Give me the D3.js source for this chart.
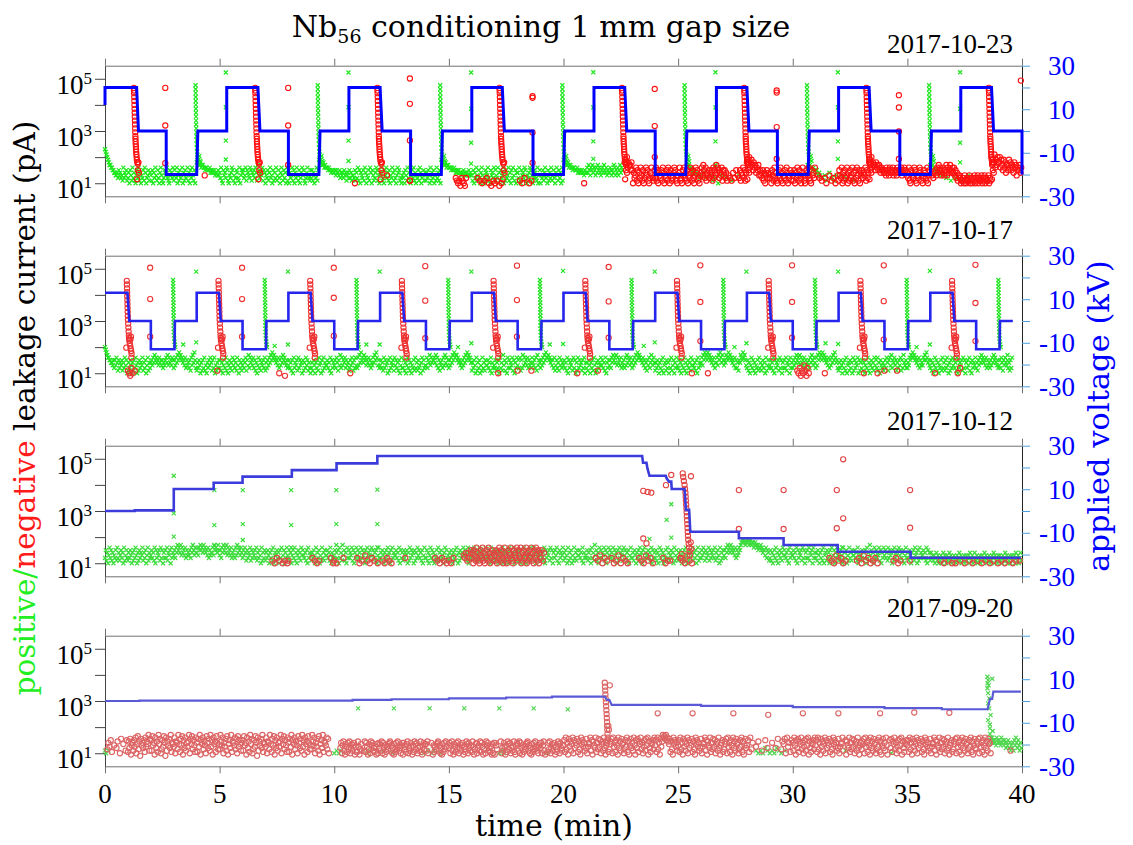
<!DOCTYPE html>
<html>
<head>
<meta charset="utf-8">
<script src="https://cdn.jsdelivr.net/npm/d3@7"></script>
<style>
  body { margin: 0; background: #fff; }
  .num { font-family: "Liberation Serif", serif; font-size: 27px; }
  .word { font-family: "DejaVu Serif", serif; }
</style>
</head>
<body>
<svg id="chart" width="1133" height="845"></svg>
<script>
// panels, top to bottom
var dates = ['2017-10-23', '2017-10-17', '2017-10-12', '2017-09-20'];
var xTicks = [0, 5, 10, 15, 20, 25, 30, 35, 40];
var yTicks = [10, 100, 1000, 10000, 100000];
var vTicks = [-30, -20, -10, 0, 10, 20, 30];

// applied voltage (min, kV)
var volt1 = [[0,12],[0,20],[1.38,20],[1.46,0],[2.67,0],[2.67,-20],[4.0,-20],[4.05,0],[5.31,0],[5.31,20],[6.67,20],[6.76,0],[8.0,0],[8.0,-20],[9.33,-20],[9.38,0],[10.64,0],[10.64,20],[12.0,20],[12.09,0],[13.33,0],[13.33,-20],[14.67,-20],[14.72,0],[16.0,0],[16.0,20],[17.33,20],[17.42,0],[18.67,0],[18.67,-20],[20.0,-20],[20.05,0],[21.33,0],[21.33,20],[22.67,20],[22.76,0],[24.0,0],[24.0,-20],[25.33,-20],[25.38,0],[26.67,0],[26.67,20],[28.0,20],[28.09,0],[29.33,0],[29.33,-20],[30.67,-20],[30.72,0],[32.0,0],[32.0,20],[33.33,20],[33.42,0],[34.67,0],[34.67,-20],[36.0,-20],[36.05,0],[37.33,0],[37.33,20],[38.67,20],[38.76,0],[40.0,0],[40.0,-20]];
var volt2 = [[0,13],[0.98,13],[1.06,0],[2,0],[2,-13],[3.03,-13],[3.05,0],[4,0],[4,13],[4.97,13],[5.05,0],[6,0],[6,-13],[7.02,-13],[7.04,0],[8,0],[8,13],[8.97,13],[9.05,0],[10,0],[10,-13],[11.02,-13],[11.04,0],[12,0],[12,13],[12.97,13],[13.05,0],[14,0],[14,-13],[15.02,-13],[15.04,0],[16,0],[16,13],[16.97,13],[17.05,0],[18,0],[18,-13],[19.02,-13],[19.04,0],[20,0],[20,13],[20.97,13],[21.05,0],[22,0],[22,-13],[23.02,-13],[23.04,0],[24,0],[24,13],[24.97,13],[25.05,0],[26,0],[26,-13],[27.02,-13],[27.04,0],[28,0],[28,13],[28.97,13],[29.05,0],[30,0],[30,-13],[31.02,-13],[31.04,0],[32,0],[32,13],[32.97,13],[33.05,0],[34,0],[34,-13],[35.02,-13],[35.04,0],[36,0],[36,13],[36.97,13],[37.05,0],[38,0],[38,-13],[39.02,-13],[39.04,0],[39.6,0]];
var volt3 = [[0,0],[1.3,0],[1.3,0.3],[3.0,0.3],[3.0,10.1],[4.74,10.1],[4.74,13],[6.0,13],[6.0,15.8],[8.15,15.8],[8.15,18.8],[10.1,18.8],[10.1,21.9],[11.88,21.9],[11.88,25.3],[23.43,25.3],[23.47,22.2],[23.62,22.2],[23.66,19.6],[23.75,16.2],[24.46,16.2],[24.5,15.0],[24.6,13.5],[24.7,13.5],[24.72,10.1],[25.28,10.1],[25.34,0.5],[25.48,0.5],[25.53,-9.5],[27.65,-9.5],[27.65,-12.5],[29.6,-12.5],[29.6,-15.6],[31.96,-15.6],[31.96,-18.7],[35.14,-18.7],[35.14,-21.5],[39.95,-21.5]];
var volt4 = [[0,0],[1.5,0],[1.5,0.2],[10.8,0.2],[10.8,0.5],[12.5,0.5],[12.5,0.8],[15,0.8],[15,1.2],[17.5,1.2],[17.5,1.6],[19.5,1.6],[19.5,2.0],[21.8,2.0],[21.9,0.5],[22.0,0.5],[22.1,-1.8],[26,-1.8],[26,-2.2],[30,-2.2],[30,-2.8],[34,-2.8],[34,-3.3],[36.5,-3.3],[36.5,-3.8],[38.5,-3.8],[38.6,1.0],[38.7,1.0],[38.75,4.3],[39.95,4.3]];

// noise floor, one string per minute, each char = log10(pA): 0.9 + step*base36 value, '.' = no sample
var p1Pos = ["edcba9887766554453645342735462","351642735214637251436275134625","426153742631574213654732164537","264371526347152634725163742615","9a9889788776776667565656455464",
  "537216453762143576241365327146","563472654376254637528463547265","143625734162537246315742635172","615347261537426135746213574326","3625143726a9a98897877767665665",
  "564655463545364524536352443625","372615436275143627516423576241","457231647352614375263147562314","351642735214637251436275134625","25364172536142735261a9a9889788",
  "777676676565665554564545546454","426153742631574213654732164537","264371526347152634725163742615","537216453762143576241365327146","143625734162537246315742635172",
  "a9a988978877677666756565655465","575864768576475867546758657465","576465874657468576............",".",".",
  "............8787676565.5.4..3.","4.5.3...4.2..3.1..4.","..3....2.....4......",".",".",
  ".............8787676","56454.3.4.2.5.3.2.4.","..4....3.....2......",".",".",
  ".","8787665545.4..3...2.","..3....2.....4......",".","."];
var p1Neg = [".",".",".",".",".......4............",
  ".",".",".",".",".",
  "..................1.",".","......4.............","......2.............",".",
  "......3212032103....",".....3.2.1.2.3.1.0.2","1.2.0.1.............","..2.1.3...1.2.......",".",
  "..................1.",".","....................9a8b798869","615347261537426135746213574326","372615436275143627516423576241",
  "457231647352614375263147562314","574863725463546273648576354726","46352.4.3.2.5.3.6.4.3625473625","9a8b79a86978576846453625146354","351642735214637251436275134625",
  "426153742631574213654732164537","...4.3..2...3.1...4..2.3..1..4","264371526347152634725163742615","46354726359a8b7988697868757665","564756475657465647566574657564",
  "537216453762143576241365327146","..4.3.564758674657465847568657","574635244312231421322413213241","32413224132413224132b8a9c7a8b9","9b7a86a795886a7968759784676857"];
var p2Pos = ["ba9877665546364752635462537461","253641526374152635472536147253","564758675647564635467584756476","364758697867564736453627485963","253641526372415364752637142536",
  "362514637251463527463527416352","463572648375647362514736254637","253647586978675647364758675463","463526173546273645162537462531","352641536274516273544635271635",
  "463752648374657364523647526374","374859675867465746354758697463","463527364516273546274635261473","362514736251436273526341572634","473658475667584736254637485746",
  "364758697886756453647586978675","253641725361427352644635271534","362536173528462517363547261537","463726384756473645375463728465","364758697786756463724635274635",
  "463527163546273615273645263715","352641536274152635474635271536","463758675847564735463748576475","364758697876657463526473586475","253641536271452635163724615374",
  "362514637251463527464352617354","574869786978675647355748697586","465876978675647363526587697864","362514736251436273524635172463","463527163546273615363725461735",
  "364758675847564736454637586475","374869786978675647364758697563","253641536271452635172635471625","362514637251463527463725164352","463752674836574625364726385463",
  "354768797867564736454768697564","362514736251436273526374152637","463527163546273615364725163547","352647586756473645364758675463","463752647546352637............"];
var p2Neg = [".","21031.2.............",".",".","..................2.",
  ".",".","............1....0..",".",".",
  "..............1.....",".",".",".",".",
  ".",".","...1................","2...........2.......",".",
  "............1.......","..........2.........",".",".",".",
  "............1.......","......1.............",".",".",".",
  "....21302142031.....","........1...........",".","..1...........1.....","2..........2........",
  ".","....1...............","....1.3.............",".","."];
var p3Pos = ["362514736251436273524635172463","253641526374152635472536147253","463527163546273615363725461735","463758675847564736454637586475","574768675867564736455748676586",
  "463758675847564735463748576475","364752635472635463725364172536","253641536271452635163724615374","362514637251463527464352617354","253641725361427352644635271534",
  "362536173528462517363547261537","463527364516273546274635261473","352641536274516273544635271635","263546152736451625374635261473","362514736251436273526341572634",
  "253641536274152635474635271536","364752635472635463725364172536","253641536271452635172635471625","362514637251463527463725164352","463527163546273615364725163547",
  "253641725361427352644635271534","362536173528462517363547261537","463527364516273546274635261473","352641536274516273544635271635","362514736251436273524635172463",
  "253641526374152635472536147253","364752635472635463725364172536","463758675867564736457689a9a989","a9a89a899789878677867566473652","362514637251463527464352617354",
  "463527163546273615363725461735","352641536271452635163724615374","253641725361427352644635271534","362536173528462517363547261537","463527364516273546274635261473",
  "352641536274516273544635271635","253424135241324135243142352413","342314235241324134234153241352","241324134235241324132435142314","342314235241324134234153241352"];
var p3Neg = [".",".",".",".",".",
  ".",".","......2.1.3.2..1.2.1","2...................",".3.2.1.2.........3.1",
  "2.1.....3...........","3.1.2..4.2.1.3.2..1.","..2.1.3.2.1.........","..3.................","........3.2.1.3.2.1.",
  "2.1.3........4352536","351642735214637251436275134625","426153742631574213654732164537","264371526347152634725163742615","3625................",
  ".","........3.2.4.1.3.2.","..3.1.2.4.1.3.2.1...","......3.2.1.4.2.3.1.",".......3.1.2.2......",
  "..3.2.1.4.2.1.......",".",".",".",".",
  ".","............3.2.1.4.","2.3.1.2.........2.3.","1.4.2.3.1.2.3.1.....","........2.3.1.2.....",
  "..2.................",".........2..1...2..1","..1...2...1...2..1..",".2...1..2...1..2...1","..2..1...2..1..2..2."];
var p4Pos = ["21.2................",".",".",".",".",
  ".",".",".",".",".",
  "1.2.1.2.............",".........1.2........","...2.......1........","..................1.","..2..1.2.....1......",
  ".",".","....1.2.1...........",".","......1.............",
  ".",".",".",".",".",
  ".",".",".","........2.1.2.1.3.2.","1.2.1.3.2.1..2......",
  ".",".","......2.............",".","......1.............",
  ".",".",".","..................675765654765","654756465354635243526475364253"];
// finer steps (0.05 decade) for this one
var p4Neg = ["..5a7c3.8.6b.2d.9.4c","3b6d18a4c7e29f5b0d8a6c3e7b9g4d","c4f8a1e6b3g9d25c7fa0e4b8d6g3a9","7e2ba5g93d8f1c6e4a7bg2d9f5c83e","a3d7g1c9e5b82fa6d4g7c1e9b3fa58",
  "5gb8e2a7d4f19c6g3ba8e5d2f7c94a","c4f8a1e6b3g9d25c7fa0e4b8d6g3a9","7e2ba5g93d8f1c6e4a7bg2d9f5c83e","a3d7g1c9e5b82fa6d4g7c1e9b3fa58","5gb8e2a7d4f19c6g3ba8e5d2......",
  "........6a28b41973a5b26948a173","3b71594..4b3a71592b8a4637192a6","94b2a6183759ab4826193a5b74628a","1a8539b264a7183b95a2647b318a59","94b2...a.183759ab4826193a5b7..",
  "6a28b41973a5b26948a1735b92a648","3b7159a2684b3a71592b8a4637192a","1a85....b264a7183b95a2647b318a","94b2a6183759ab4826193a5b74628a","6a28b41..3a5b26948a1735b92a648",
  "8c3e5a1d7b49e2c6a8d3b51e9c7a46","d27a9e4c1b86e3a5d7c29b4e618ac3","5b9d2e7a3c81e6b4d9a25c7e3b18d6","a4e81c6d3b9e5a27c4d8e1b63a9c5e","8c3e5a1d7bgefdgceb9d3b51e9c7a4",
  "8c3e5a1d7b49e2c6a8d3b51e9c7a46","d27a9e4c1b86e3a5d7c29b4e618ac3","5b9d2e7a3c81e6b4d9a25c7e3b18d6","8c3e5a..7.b..4..c.6.","..a..6.d..5b9d2e7a3c",
  "a4e81c6d3b9e5a27c4d8e1b63a9c5e","8c3e5a1d7b49e2c6a8d3b51e9c7a46","d27a9e4..c1b86e3a5d7c29b4e618a","5b9d2e7a3c81e6b4d9a25c7e3b18d6","a4e81..c6d3b9e5a27c4d8e1b63a9c",
  "8c3e5a1d7b49e2c6a8d3b51e9c7a46","d27a9e4c1b86e3a5d7c29b4e618ac3","5b9d2e7a3c81e6b4d9a25c7e3b18d6","5b9d2e7a3c81e6b4d9a2..........","..........4........."];

// transients (offset min, log10 pA) and when they occur
var p1Decay = [[-0.12,4.65],[-0.115,4.55],[-0.11,4.45],[-0.105,4.3],[-0.1,4.15],[-0.095,4.0],[-0.09,3.85],[-0.085,3.7],[-0.08,3.55],[-0.075,3.4],[-0.07,3.25],[-0.065,3.1],[-0.06,2.95],[-0.055,2.8],[-0.05,2.7],[-0.045,2.6],[-0.04,2.5],[-0.03,2.4],[-0.025,2.3],[-0.02,2.2],[-0.01,2.1],[0,2.0],[0.01,1.9],[0.03,1.8],[0.05,1.75],[0.08,1.8],[0.06,1.5],[0.1,1.4],[0.02,1.15]];
var p1DecayAt = [1.38, 6.67, 12.0, 17.33, 22.67, 28.0, 33.33, 38.67];
var p1Rise = [[-0.05,4.75],[-0.048,4.6],[-0.046,4.45],[-0.044,4.3],[-0.042,4.15],[-0.04,4.0],[-0.037,3.85],[-0.034,3.7],[-0.031,3.55],[-0.028,3.4],[-0.025,3.25],[-0.02,3.1],[-0.015,2.95],[-0.01,2.8],[-0.005,2.65],[0,2.5],[0.01,2.35],[0.02,2.2],[0.03,2.1],[0.05,2.0],[0.08,1.9],[0.12,2.05],[0.15,1.85]];
var p1RiseAt = [4.0, 9.33, 14.67, 20.0, 25.33, 30.67, 36.0];
var p1PosStep = [[5.27,5.24],[5.27,3.91],[5.27,2.63],[5.27,1.91],[10.62,5.24],[10.62,3.91],[10.62,2.63],[10.62,1.85],[15.97,5.24],[15.97,3.85],[15.97,2.55],[15.97,1.75],[21.3,5.25],[21.3,3.9],[21.3,2.6],[21.3,1.93],[26.63,5.25],[26.63,3.9],[26.63,2.6],[26.63,1.7],[31.97,5.25],[31.97,3.9],[31.97,2.6],[31.97,1.93],[37.3,5.25],[37.3,3.85],[37.3,2.55],[37.3,1.8]];
var p1NegStep = [[2.63,4.65],[2.63,3.21],[2.63,1.77],[7.99,4.65],[7.99,3.21],[7.99,1.7],[13.3,5.01],[13.3,4.04],[13.3,2.64],[13.3,1.1],[18.65,4.33],[18.65,4.27],[18.65,2.94],[18.65,1.78],[23.98,4.61],[23.98,3.19],[23.98,2.0],[29.3,4.55],[29.3,4.47],[29.3,3.15],[29.3,1.93],[34.63,4.37],[34.63,3.9],[34.63,2.98],[34.63,1.93],[39.95,4.93]];

var p2Decay = [[-0.05,4.54],[-0.045,4.4],[-0.04,4.25],[-0.035,4.1],[-0.03,3.95],[-0.025,3.8],[-0.02,3.65],[-0.015,3.5],[-0.01,3.35],[-0.005,3.2],[0,3.05],[0.01,2.9],[0.02,2.75],[0.03,2.6],[0.04,2.45],[0.05,2.35],[0.06,2.25],[0.08,2.15],[0.1,2.05],[0.12,1.95],[0.14,1.85],[0.16,1.75],[0.11,2.3],[0.13,2.4],[-0.07,1.98],[0.15,1.6]];
var p2DecayAt = [1, 5, 9, 13, 17, 21, 25, 29, 33, 37];
var p2Rise = [[-0.03,4.57],[-0.028,4.45],[-0.026,4.33],[-0.024,4.2],[-0.022,4.08],[-0.02,3.95],[-0.018,3.83],[-0.016,3.7],[-0.014,3.58],[-0.012,3.45],[-0.01,3.33],[-0.008,3.2],[-0.006,3.08],[-0.004,2.95],[-0.002,2.83],[0,2.7],[0.005,2.58],[0.01,2.45],[0.02,2.33],[0.03,2.2],[0.05,2.1],[0.07,2.0]];
var p2RiseAt = [3, 7, 11, 15, 19, 23, 27, 31, 35, 39];
var p2PosStep = [[3.98,4.89],[3.98,2.18],[7.98,4.89],[7.98,2.1],[11.98,4.89],[11.98,2.1],[15.98,4.89],[15.98,2.15],[19.98,4.92],[19.98,2.12],[23.98,4.89],[23.98,2.18],[27.98,4.89],[27.98,2.15],[31.98,4.89],[31.98,2.12],[35.98,4.92],[35.98,2.1],[3.41,2.1],[7.4,2.05],[11.4,2.1],[15.4,2.0],[19.4,2.1],[23.5,2.05],[27.46,2.0],[31.43,2.15],[35.4,2.0],[39.37,1.7]];
var p2NegStep = [[1.97,5.04],[1.97,3.84],[1.97,2.4],[5.98,5.04],[5.98,3.84],[5.98,2.4],[9.98,5.04],[9.98,3.89],[9.98,2.43],[13.97,5.1],[13.97,3.78],[13.97,2.34],[17.97,5.12],[17.97,3.8],[17.97,2.4],[21.97,5.07],[21.97,3.75],[21.97,2.36],[25.97,5.13],[25.97,3.73],[25.97,2.23],[29.97,5.13],[29.97,3.73],[29.97,2.36],[33.97,5.13],[33.97,3.76],[33.97,2.29],[37.97,5.15],[37.97,3.69],[37.97,2.23]];

var p3PosSpike = [[3.0,4.35],[3.0,2.91],[3.0,2.02],[4.77,3.8],[4.77,2.46],[4.77,1.67],[6.01,3.8],[6.01,2.5],[6.01,1.89],[8.12,3.8],[8.12,2.46],[8.12,1.61],[10.09,3.8],[10.09,2.5],[10.09,1.7],[11.88,3.82],[11.88,2.5],[11.88,1.61],[23.75,1.93],[24.5,2.66],[24.7,3.26],[24.7,1.98],[32.15,1.61]];
var p3NegSpike = [[23.48,3.77],[23.67,3.73],[23.83,3.7],[23.48,1.95],[23.62,1.76],[24.47,3.99],[24.7,4.38],[25.2,4.44],[25.22,4.3],[25.25,4.15],[25.28,4.0],[25.3,3.85],[25.32,3.7],[25.33,3.55],[25.34,3.4],[25.35,3.25],[25.36,3.1],[25.37,2.95],[25.38,2.8],[25.39,2.65],[25.4,2.5],[25.41,2.35],[25.42,2.2],[25.43,2.05],[25.44,1.9],[25.46,1.75],[25.48,1.6],[25.5,1.45],[25.52,1.3],[25.56,4.33],[25.55,1.8],[25.58,1.55],[25.12,1.2],[25.16,1.35],[27.65,3.8],[27.65,2.31],[29.6,3.8],[29.6,2.31],[31.92,3.8],[31.92,2.34],[32.2,4.98],[32.2,2.72],[35.12,3.8],[35.12,2.36]];

var p4PosSpike = [[11.04,2.72],[12.6,2.72],[14.16,2.72],[15.67,2.72],[17.2,2.72],[18.7,2.72],[20.19,2.68],[38.49,3.93],[38.52,3.8],[38.7,3.85],[38.5,3.68],[38.49,3.49],[38.52,3.3],[38.57,3.1],[38.52,2.91],[38.57,2.72],[38.63,2.46],[38.52,2.27],[38.6,1.95],[38.6,1.74],[38.7,1.5],[38.55,3.6],[38.6,2.1],[38.65,1.6],[38.72,1.85]];
var p4NegSpike = [[21.8,3.7],[21.81,3.55],[21.82,3.4],[21.83,3.25],[21.84,3.1],[21.85,2.95],[21.86,2.8],[21.87,2.65],[21.88,2.5],[21.89,2.35],[21.9,2.2],[21.9,2.05],[21.91,1.9],[21.92,1.75],[21.93,1.6],[22.02,3.6],[21.96,2.05],[21.98,1.9],[21.85,1.45],[24.11,2.53],[25.63,2.53],[27.41,2.53],[28.93,2.47],[30.44,2.53],[31.99,2.53],[33.81,2.53],[35.3,2.56],[36.83,2.55]];

var greenCol = ['#1ee81e', '#24e424', '#3ddc3d', '#4fd64f'];
var redCol = ['#ff1010', '#ee3030', '#e24444', '#dc6464'];
var blueCol = ['#0000ff', '#2525ee', '#3c3cdc', '#5a5ad6'];
var blueW = [3, 2.6, 2.6, 2.2];
var dateY = [53, 239, 430, 617];

function floorPoints(groups, step) {
    step = step || 0.1;
    var pts = [];
    groups.forEach(function(g, m) {
        for (var i = 0; i < g.length; i++) {
            if (g[i] == '.') continue;
            pts.push([m + i / g.length, 0.9 + parseInt(g[i], 36) * step]);
        }
    });
    return pts;
}

function stamp(times, shape) {
    var out = [];
    times.forEach(function(T) {
        shape.forEach(function(p) { out.push([T + p[0], p[1]]); });
    });
    return out;
}

var panels = [
    {volt: volt1, pos: floorPoints(p1Pos).concat(stamp(p1RiseAt, p1Rise), p1PosStep),
     neg: floorPoints(p1Neg).concat(stamp(p1DecayAt, p1Decay), p1NegStep)},
    {volt: volt2, pos: floorPoints(p2Pos).concat(stamp(p2RiseAt, p2Rise), p2PosStep),
     neg: floorPoints(p2Neg).concat(stamp(p2DecayAt, p2Decay), p2NegStep)},
    {volt: volt3, pos: floorPoints(p3Pos).concat(p3PosSpike), neg: floorPoints(p3Neg).concat(p3NegSpike)},
    {volt: volt4, pos: floorPoints(p4Pos).concat(p4PosSpike), neg: floorPoints(p4Neg, 0.05).concat(p4NegSpike)}
];

var svg = d3.select('#chart');
var x = d3.scaleLinear().domain([0, 40]).range([105, 1022]);
var panelTop = [65.7, 255.7, 445.7, 635.7];
var panelH = 130.6;

panels.forEach(function(p, i) {
    var top = panelTop[i], bot = top + panelH;
    var y = d3.scaleLog().domain([Math.pow(10, 0.5), Math.pow(10, 5.5)]).range([bot, top]);
    var yv = d3.scaleLinear().domain([-30, 30]).range([bot, top]);
    var g = svg.append('g');

    // frame
    var gt = g.append('g').attr('transform', 'translate(0,' + top + ')')
        .call(d3.axisTop(x).tickValues(xTicks).tickSize(7).tickSizeOuter(0).tickFormat(''));
    var gb = g.append('g').attr('transform', 'translate(0,' + bot + ')')
        .call(d3.axisBottom(x).tickValues(xTicks).tickSize(7).tickSizeOuter(0).tickFormat(''));
    gt.selectAll('path, line').attr('stroke', '#707070');
    gb.selectAll('path, line').attr('stroke', '#707070');

    var gl = g.append('g').attr('transform', 'translate(105,0)')
        .call(d3.axisLeft(y).tickValues(yTicks).tickSize(10).tickSizeOuter(0).tickFormat(''));
    gl.selectAll('path, line').attr('stroke', '#444');

    var gr = g.append('g').attr('transform', 'translate(1022,0)')
        .call(d3.axisRight(yv).tickValues(vTicks).tickSize(8).tickSizeOuter(0).tickFormat(''));
    gr.select('path').attr('stroke', '#222');
    gr.selectAll('line').attr('stroke', '#4a9ee0');

    yTicks.forEach(function(v) {
        var e = Math.round(Math.log10(v));
        if (e % 2 == 0) return;
        var t = g.append('text').attr('class', 'num').attr('x', 92).attr('y', y(v) + 15)
            .attr('text-anchor', 'end').attr('fill', '#000');
        t.append('tspan').text('10');
        t.append('tspan').attr('dy', -10).attr('font-size', 17).text(e);
    });

    vTicks.forEach(function(v) {
        if (Math.abs(v) % 20 == 0) return;
        g.append('text').attr('class', 'num').attr('x', 1075).attr('y', yv(v) + 9.5)
            .attr('text-anchor', 'end').attr('fill', '#0000ff').text(v);
    });

    if (i == 3) {
        xTicks.forEach(function(v) {
            g.append('text').attr('class', 'num').attr('x', x(v)).attr('y', 803)
                .attr('text-anchor', 'middle').text(v);
        });
    }

    g.append('text').attr('class', 'num').attr('x', 1013).attr('y', dateY[i])
        .attr('text-anchor', 'end').attr('font-size', 28).text(dates[i]);

    // positive current: crosses
    g.append('g').selectAll('path').data(p.pos).enter().append('path')
        .attr('d', 'M-2,-2L2,2M-2,2L2,-2')
        .attr('transform', function(d) { return 'translate(' + x(d[0]) + ',' + y(Math.pow(10, d[1])) + ')'; })
        .attr('stroke', greenCol[i]).attr('stroke-width', 1.2).attr('fill', 'none');

    // negative current: open circles
    g.append('g').selectAll('circle').data(p.neg).enter().append('circle')
        .attr('cx', function(d) { return x(d[0]); })
        .attr('cy', function(d) { return y(Math.pow(10, d[1])); })
        .attr('r', 2.6)
        .attr('stroke', redCol[i]).attr('stroke-width', 1.1).attr('fill', 'none');

    var line = d3.line().x(function(d) { return x(d[0]); }).y(function(d) { return yv(d[1]); });
    g.append('path').datum(p.volt).attr('d', line)
        .attr('fill', 'none').attr('stroke', blueCol[i]).attr('stroke-width', blueW[i]);
});

// titles
var title = svg.append('text').attr('class', 'word').attr('x', 541).attr('y', 37)
    .attr('text-anchor', 'middle').attr('font-size', 30);
title.append('tspan').text('Nb');
title.append('tspan').attr('font-size', 19).attr('dy', 6).text('56');
title.append('tspan').attr('dy', -6).text(' conditioning 1 mm gap size');

svg.append('text').attr('class', 'word').attr('x', 554).attr('y', 836)
    .attr('text-anchor', 'middle').attr('font-size', 30).text('time (min)');

var yl = svg.append('text').attr('class', 'word').attr('font-size', 29.5)
    .attr('text-anchor', 'middle').attr('transform', 'translate(35,408) rotate(-90)');
yl.append('tspan').attr('fill', '#22ee22').text('positive/');
yl.append('tspan').attr('fill', '#ff1a1a').text('negative');
yl.append('tspan').attr('fill', '#000').text(' leakage current (pA)');

svg.append('text').attr('class', 'word').attr('font-size', 30.5).attr('fill', '#0000ff')
    .attr('text-anchor', 'middle').attr('transform', 'translate(1109,416) rotate(-90)')
    .text('applied voltage (kV)');
</script>
</body>
</html>
